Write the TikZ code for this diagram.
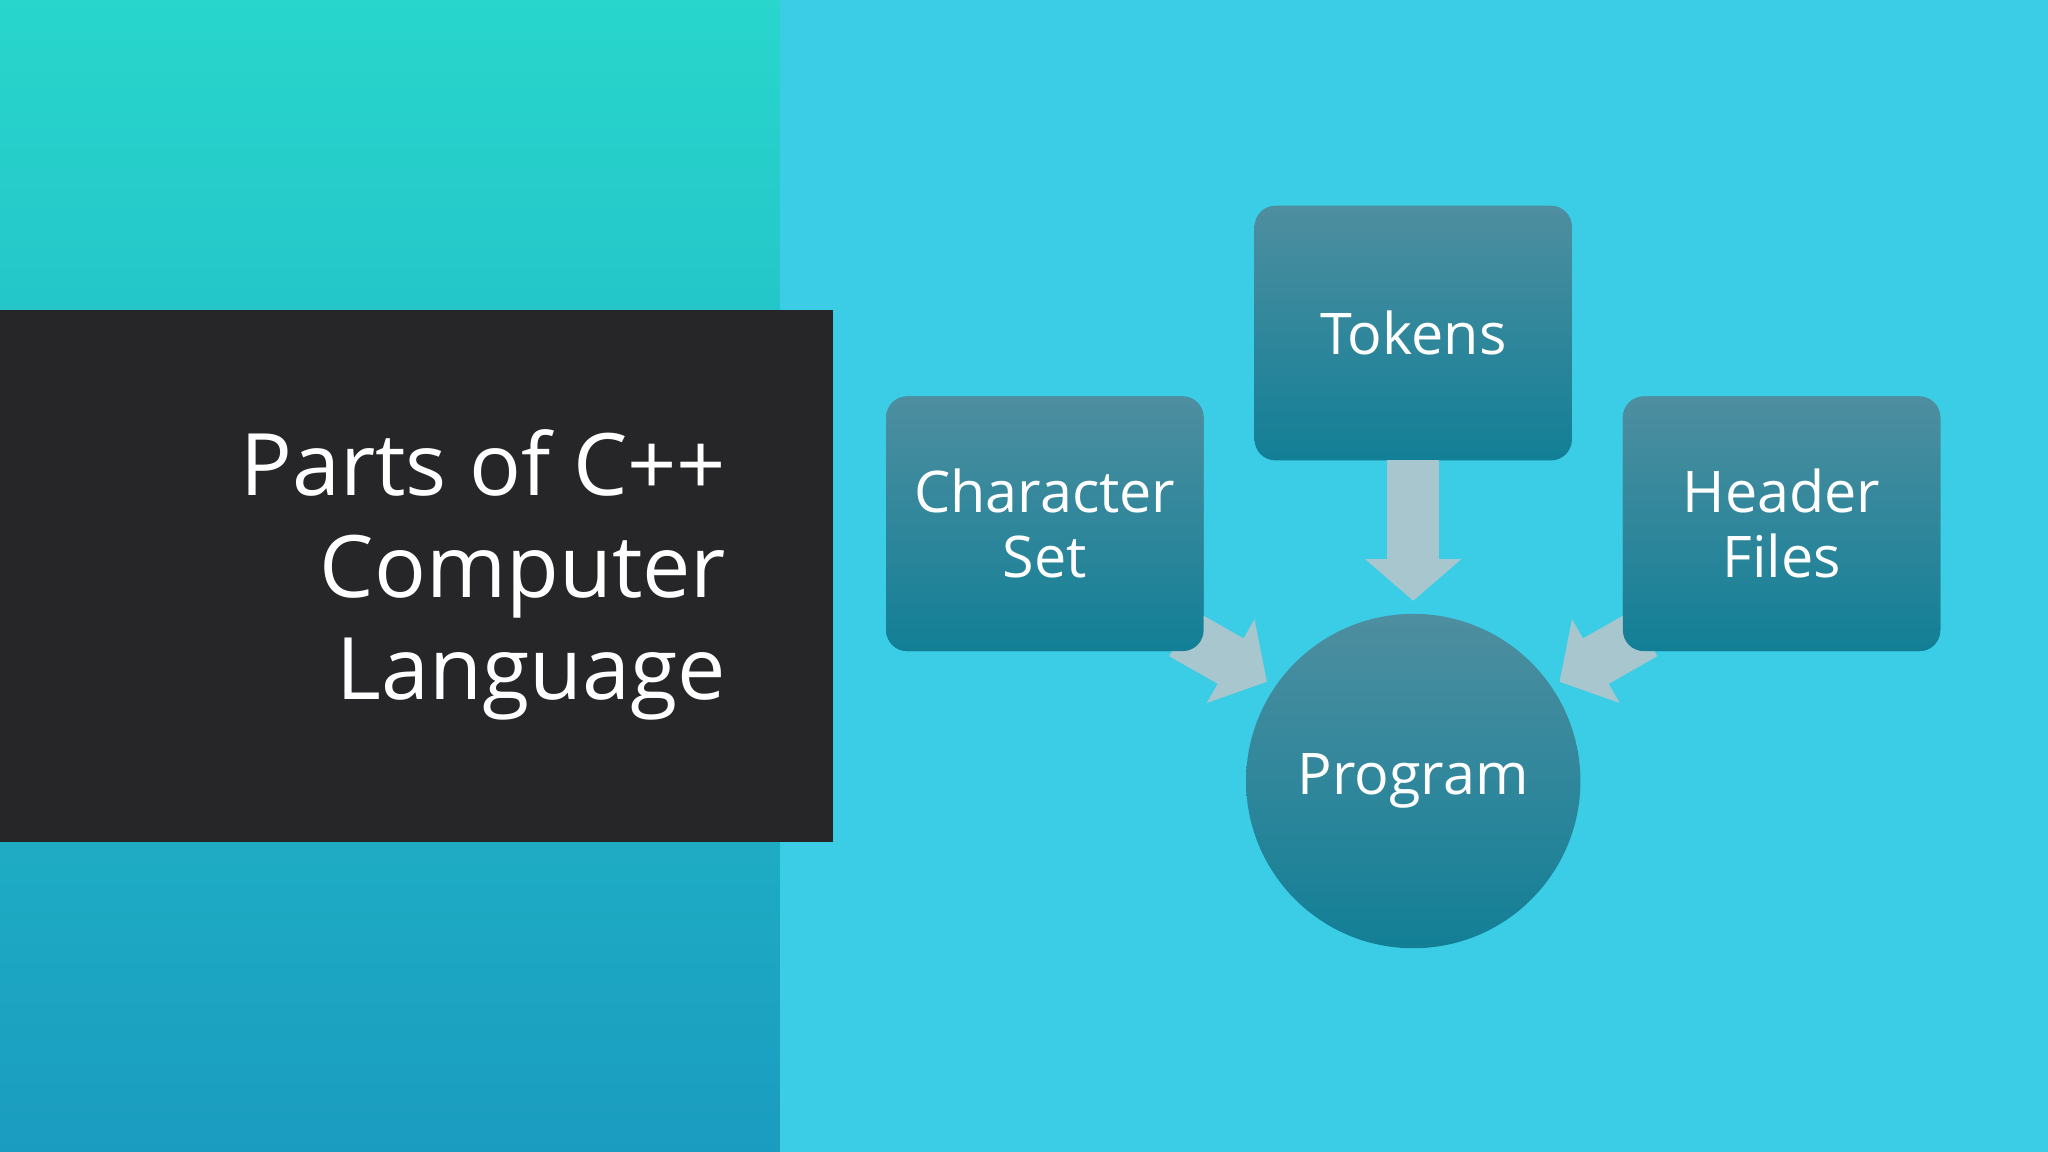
\documentclass[tikz,border=0pt]{standalone}
\usepackage{fontspec}
\setmainfont{Open Sans}
\usetikzlibrary{arrows.meta}
\definecolor{bgr}{HTML}{3BCDE6}
\definecolor{lt}{HTML}{28D6CC}
\definecolor{lb}{HTML}{1A9CC0}
\definecolor{blk}{HTML}{262528}
\definecolor{bt}{HTML}{4E8EA0}
\definecolor{bb}{HTML}{127F96}
\definecolor{arr}{HTML}{A8C6CE}
\tikzset{
 box/.style={rounded corners=8pt, minimum width=121.5pt, minimum height=97.5pt, top color=bt, bottom color=bb, text=white, font=\fontsize{22}{25}\selectfont, align=center, inner sep=0pt},
 circ/.style={circle, minimum size=128pt, top color=bt, bottom color=bb, text=white, font=\fontsize{22}{25}\selectfont, inner sep=0pt},
 blockarrow/.style={draw=arr, line width=20pt, -{Triangle[length=16pt,width=36pt]}}
}
\begin{document}
\begin{tikzpicture}[x=0.5pt,y=-0.5pt]
\useasboundingbox (0,0) rectangle (1568,882);
\fill[bgr] (0,0) rectangle (1568,882);
\shade[top color=lt, bottom color=lb] (0,0) rectangle (597,882);
\fill[blk] (0,237) rectangle (638,645);
\node[anchor=east, text=white, align=right, font=\fontsize{33}{39}\selectfont] (title) at (563,440) {Parts of C++\\Computer\\Language};
\node[box] (tok) at (1082,255) {Tokens};
\node[box] (cs) at (800,401) {Character\\Set};
\node[box] (hf) at (1364,401) {Header\\Files};
\node[circ] (prog) at (1082,598) {Program};
\coordinate (a1) at (1082,352);
\coordinate (a1e) at (1082,460);
\coordinate (a2) at (905,485);
\coordinate (a2e) at (970,522);
\coordinate (a3) at (1259,485);
\coordinate (a3e) at (1194,522);
\draw[blockarrow] (a1) -- (a1e);
\draw[blockarrow] (a2) -- (a2e);
\draw[blockarrow] (a3) -- (a3e);
\node[box] at (cs) {Character\\Set};
\node[box] at (hf) {Header\\Files};
\end{tikzpicture}
\end{document}
